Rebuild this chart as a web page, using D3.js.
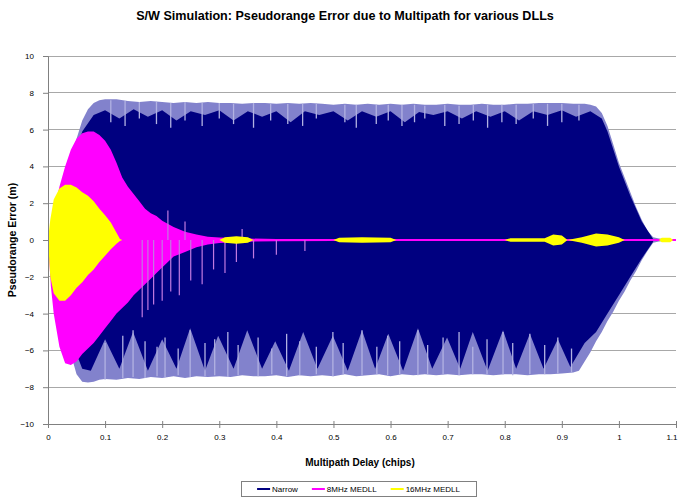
<!DOCTYPE html>
<html>
<head>
<meta charset="utf-8">
<script src="https://cdn.jsdelivr.net/npm/d3@7"></script>
<style>
  body { margin: 0; background: #fff; }
  svg { display: block; font-family: "Liberation Sans", Arial, sans-serif; }
</style>
</head>
<body>
<svg id="chart" width="678" height="502"></svg>
<script>
// ---- labels ----
const chartTitle = "S/W Simulation: Pseudorange Error due to Multipath for various DLLs";
const xTitle = "Multipath Delay (chips)";
const yTitle = "Pseudorange Error (m)";
const seriesNames = ["Narrow", "8MHz MEDLL", "16MHz MEDLL"];
const xTicks = [0, 0.1, 0.2, 0.3, 0.4, 0.5, 0.6, 0.7, 0.8, 0.9, 1.0, 1.1];
const xTickLabels = ["0", "0.1", "0.2", "0.3", "0.4", "0.5", "0.6", "0.7", "0.8", "0.9", "1", "1.1"];
const yTicks = [-10, -8, -6, -4, -2, 0, 2, 4, 6, 8, 10];

// ---- Narrow correlator: outer envelope of the error oscillation (m) ----
const narrowDelay = [0, 0.01, 0.02, 0.03, 0.04, 0.05, 0.06, 0.07, 0.08, 0.09, 0.10,
  0.12, 0.14, 0.16, 0.18, 0.20, 0.22, 0.24, 0.26, 0.28, 0.30, 0.32, 0.34, 0.36, 0.38, 0.40,
  0.42, 0.44, 0.46, 0.48, 0.50, 0.52, 0.54, 0.56, 0.58, 0.60, 0.62, 0.64, 0.66, 0.68, 0.70,
  0.72, 0.74, 0.76, 0.78, 0.80, 0.82, 0.84, 0.86, 0.88, 0.90, 0.92,
  0.93, 0.94, 0.95, 0.96, 0.97, 0.98, 0.99, 1.00, 1.01, 1.02, 1.03, 1.04, 1.05, 1.06, 1.07, 1.08, 1.10];
const narrowMax = [0, 1.1, 2.2, 3.3, 4.4, 5.5, 6.5, 7.1, 7.45, 7.6, 7.65,
  7.65, 7.55, 7.5, 7.55, 7.5, 7.45, 7.5, 7.45, 7.5, 7.45, 7.45, 7.4, 7.45, 7.45, 7.4,
  7.45, 7.4, 7.45, 7.4, 7.35, 7.4, 7.35, 7.4, 7.35, 7.4, 7.35, 7.4, 7.35, 7.35, 7.4,
  7.35, 7.35, 7.4, 7.35, 7.35, 7.4, 7.4, 7.45, 7.45, 7.45, 7.4,
  7.4, 7.4, 7.35, 7.25, 6.9, 6.2, 5.2, 4.2, 3.4, 2.6, 1.8, 1.1, 0.5, 0.15, 0.08, 0.05, 0.04];
const narrowMin = [0, -1.4, -2.9, -4.6, -6.2, -7.3, -7.7, -7.75, -7.7, -7.6, -7.55,
  -7.6, -7.5, -7.55, -7.45, -7.5, -7.4, -7.5, -7.4, -7.45, -7.4, -7.45, -7.35, -7.4, -7.4, -7.35,
  -7.45, -7.35, -7.4, -7.35, -7.4, -7.3, -7.4, -7.35, -7.3, -7.4, -7.3, -7.35, -7.3, -7.35, -7.3,
  -7.35, -7.3, -7.3, -7.35, -7.3, -7.3, -7.35, -7.3, -7.3, -7.25, -7.2,
  -7.1, -6.6, -6.1, -5.5, -5.0, -4.4, -3.9, -3.3, -2.8, -2.2, -1.7, -1.1, -0.6, -0.15, -0.08, -0.05, -0.04];

// ---- Narrow correlator: dense core of the oscillation (m) ----
const narrowCoreTopDelay = [0, 0.02, 0.04, 0.06, 0.08, 0.10, 0.125, 0.15, 0.175, 0.20, 0.225, 0.25,
  0.275, 0.30, 0.325, 0.35, 0.375, 0.40, 0.425, 0.45, 0.475, 0.50, 0.525, 0.55, 0.575, 0.60,
  0.625, 0.65, 0.675, 0.70, 0.725, 0.75, 0.775, 0.80, 0.825, 0.85, 0.875, 0.90, 0.925, 0.95,
  0.97, 0.98, 0.99, 1.00, 1.02, 1.04, 1.06];
const narrowCoreTop = [0, 1.9, 3.9, 5.9, 6.8, 7.05, 6.6, 7.1, 6.7, 7.05, 6.5, 7.0,
  6.8, 7.05, 6.5, 7.0, 6.7, 7.0, 6.4, 7.0, 6.8, 7.0, 6.5, 7.0, 6.7, 7.0,
  6.4, 6.95, 6.8, 7.0, 6.6, 7.0, 6.7, 7.0, 6.5, 7.0, 6.8, 7.05, 6.7, 7.0,
  6.6, 5.9, 4.95, 4.0, 2.4, 1.0, 0.05];
const narrowCoreLowDelay = [0, 0.02, 0.04, 0.06, 0.075, 0.10, 0.125, 0.149, 0.175, 0.20, 0.225, 0.249,
  0.275, 0.298, 0.325, 0.349, 0.375, 0.398, 0.422, 0.447, 0.472, 0.499, 0.525, 0.55, 0.573,
  0.596, 0.622, 0.648, 0.673, 0.699, 0.722, 0.744, 0.77, 0.797, 0.82, 0.844, 0.868, 0.893,
  0.915, 0.94, 0.96, 0.98, 1.00, 1.02, 1.04, 1.06];
const narrowCoreLow = [0, -2.6, -5.4, -7.0, -7.1, -5.4, -7.0, -5.0, -7.1, -5.4, -7.0, -4.8,
  -7.1, -5.2, -7.0, -4.9, -7.0, -5.5, -7.1, -5.0, -7.0, -5.2, -7.1, -4.9, -7.0,
  -5.1, -7.1, -4.8, -7.0, -5.3, -7.0, -5.0, -7.1, -4.9, -7.0, -5.1, -7.0, -5.4,
  -6.9, -5.6, -5.0, -4.0, -3.0, -2.0, -1.0, -0.1];

// ---- Narrow correlator: individual deep swings at the envelope edges (m) ----
const narrowDipDelay = [0.100, 0.131, 0.149, 0.170, 0.191, 0.205, 0.228, 0.249, 0.275, 0.292, 0.315, 0.333,
  0.368, 0.392, 0.418, 0.441, 0.470, 0.499, 0.517, 0.550, 0.576, 0.595, 0.616, 0.648, 0.665, 0.692,
  0.720, 0.744, 0.769, 0.797, 0.814, 0.844, 0.870, 0.893, 0.917];
const narrowDipFrom = [-5.6, -5.2, -4.9, -5.5, -5.8, -5.3, -5.9, -4.9, -5.6, -5.4, -5.0, -5.7,
  -5.3, -5.9, -5.1, -5.5, -5.8, -5.0, -5.6, -4.9, -5.8, -5.2, -5.5, -4.9, -5.7, -5.3,
  -5.0, -5.8, -5.4, -5.0, -5.6, -5.1, -5.7, -5.3, -5.9];
const narrowDipTo = [-7.6, -7.5, -7.45, -7.5, -7.4, -7.45, -7.35, -7.45, -7.4, -7.35, -7.45, -7.35,
  -7.4, -7.3, -7.4, -7.35, -7.3, -7.4, -7.3, -7.35, -7.3, -7.35, -7.3, -7.35, -7.3, -7.3,
  -7.35, -7.3, -7.3, -7.3, -7.35, -7.3, -7.3, -7.25, -7.2];
const narrowPeakDelay = [0.11, 0.135, 0.16, 0.19, 0.215, 0.24, 0.27, 0.30, 0.325, 0.36, 0.39, 0.42,
  0.446, 0.47, 0.52, 0.54, 0.575, 0.596, 0.62, 0.642, 0.66, 0.695, 0.72, 0.745, 0.77, 0.795,
  0.82, 0.85, 0.875, 0.90, 0.93];
const narrowPeakFrom = [7.6, 7.55, 7.5, 7.5, 7.45, 7.5, 7.45, 7.45, 7.4, 7.45, 7.4, 7.4,
  7.4, 7.4, 7.35, 7.35, 7.35, 7.35, 7.35, 7.35, 7.3, 7.35, 7.3, 7.35, 7.35, 7.35,
  7.35, 7.4, 7.4, 7.4, 7.35];
const narrowPeakTo = [6.4, 6.2, 6.6, 6.3, 6.1, 6.5, 6.2, 6.6, 6.3, 6.1, 6.5, 6.3,
  6.2, 6.6, 6.4, 6.1, 6.3, 6.5, 6.2, 6.4, 6.6, 6.2, 6.3, 6.5, 6.1, 6.4,
  6.3, 6.6, 6.2, 6.4, 6.5];

// ---- 8MHz MEDLL envelope (m) ----
const medll8Delay = [0, 0.005, 0.01, 0.02, 0.03, 0.04, 0.05, 0.06, 0.07, 0.08, 0.09, 0.10,
  0.11, 0.12, 0.13, 0.14, 0.15, 0.16, 0.17, 0.18, 0.19, 0.20, 0.22, 0.24, 0.26, 0.28, 0.30,
  0.35, 0.40, 0.50, 0.60, 0.70, 0.80, 0.90, 1.00, 1.10];
const medll8Max = [0, 0.8, 1.5, 2.9, 4.0, 4.9, 5.5, 5.8, 5.9, 5.9, 5.7, 5.4,
  4.9, 4.2, 3.4, 2.9, 2.5, 2.1, 1.7, 1.45, 1.3, 1.05, 0.7, 0.45, 0.3, 0.18, 0.13,
  0.08, 0.06, 0.06, 0.06, 0.06, 0.06, 0.06, 0.06, 0.05];
const medll8Min = [0, -2.5, -4.0, -5.8, -6.7, -6.8, -6.6, -6.2, -5.9, -5.6, -5.2, -4.8,
  -4.4, -4.0, -3.7, -3.4, -3.0, -2.7, -2.4, -2.1, -1.8, -1.5, -0.9, -0.65, -0.4, -0.25, -0.16,
  -0.09, -0.07, -0.06, -0.06, -0.06, -0.06, -0.06, -0.06, -0.05];
// isolated excursions of the 8MHz MEDLL error
const medll8SpikeDelay = [0.165, 0.175, 0.185, 0.20, 0.21, 0.215, 0.23, 0.24, 0.25, 0.27, 0.29, 0.31, 0.33, 0.34, 0.36, 0.40, 0.45];
const medll8SpikeValue = [-4.2, -3.8, -3.5, -3.3, 1.6, -2.8, -3.0, 1.0, -2.2, -2.4, -1.6, -1.8, -1.2, 0.6, -1.0, -0.8, -0.6];

// ---- 16MHz MEDLL envelope (m) ----
const medll16Delay = [0, 0.004, 0.01, 0.02, 0.03, 0.04, 0.05, 0.06, 0.07, 0.08, 0.09, 0.10, 0.11, 0.12, 0.126,
  0.13, 0.30, 0.31, 0.33, 0.35, 0.36, 0.50, 0.51, 0.55, 0.60, 0.61, 0.80, 0.81, 0.87, 0.885, 0.90, 0.91,
  0.935, 0.96, 0.98, 1.00, 1.01, 1.07, 1.075, 1.09, 1.095, 1.10];
const medll16Max = [0, 1.1, 2.2, 2.8, 3.0, 3.0, 2.85, 2.6, 2.4, 2.1, 1.7, 1.35, 0.95, 0.4, 0.06,
  0, 0, 0.15, 0.2, 0.15, 0, 0, 0.12, 0.15, 0.12, 0, 0, 0.1, 0.1, 0.3, 0.25, 0,
  0.15, 0.35, 0.3, 0.15, 0, 0, 0.12, 0.12, 0, 0];
const medll16Min = [0, -2.0, -2.9, -3.3, -3.3, -3.0, -2.6, -2.3, -1.9, -1.6, -1.2, -0.85, -0.5, -0.2, -0.06,
  0, 0, -0.15, -0.2, -0.15, 0, 0, -0.12, -0.15, -0.12, 0, 0, -0.1, -0.1, -0.3, -0.25, 0,
  -0.15, -0.35, -0.3, -0.15, 0, 0, -0.12, -0.12, 0, 0];

const colors = { narrow: "#000080", narrowFringe: "#8282cc", narrowStreak: "#b2b2e2",
  medll8: "#ff00ff", medll8Spike: "#c27ae0", medll16: "#ffff00" };

// ---- layout ----
const svg = d3.select("#chart");
const plot = { left: 48, right: 676, top: 56, bottom: 424 };
const x = d3.scaleLinear().domain([0, 1.1]).range([plot.left, plot.right]);
const y = d3.scaleLinear().domain([-10, 10]).range([plot.bottom, plot.top]);

// title
svg.append("text")
  .attr("x", 345).attr("y", 20)
  .attr("text-anchor", "middle")
  .attr("font-size", 12.6).attr("font-weight", "bold")
  .text(chartTitle);

// gridlines
svg.append("g")
  .selectAll("line")
  .data(yTicks.filter(v => v > -10))
  .join("line")
  .attr("x1", plot.left).attr("x2", plot.right)
  .attr("y1", d => y(d)).attr("y2", d => y(d))
  .attr("stroke", "#a8a8a8").attr("stroke-width", 1)
  .attr("shape-rendering", "crispEdges");

// series layers
const band = (delay, lo, hi) => d3.area()
  .x((d, i) => x(delay[i]))
  .y0((d, i) => y(lo[i]))
  .y1((d, i) => y(hi[i]))(delay);

const series = svg.append("g");

const swings = (g, delay, from, to, color, width) => g.append("g")
  .selectAll("line")
  .data(delay)
  .join("line")
  .attr("x1", d => x(d)).attr("x2", d => x(d))
  .attr("y1", (d, i) => y(from[i])).attr("y2", (d, i) => y(to[i]))
  .attr("stroke", color).attr("stroke-width", width);

// Narrow: light fringe of the oscillation, then its dense core
series.append("path")
  .attr("d", band(narrowDelay, narrowMin, narrowMax))
  .attr("fill", colors.narrowFringe);

const corePts = narrowCoreTopDelay.map((d, i) => [x(d), y(narrowCoreTop[i])])
  .concat(narrowCoreLowDelay.map((d, i) => [x(d), y(narrowCoreLow[i])]).reverse());
series.append("path")
  .attr("d", d3.line()(corePts) + "Z")
  .attr("fill", colors.narrow);

swings(series, narrowDipDelay, narrowDipFrom, narrowDipTo, colors.narrowStreak, 1.3);
swings(series, narrowPeakDelay, narrowPeakFrom, narrowPeakTo, colors.narrowStreak, 1.3);

// 8MHz MEDLL
series.append("path")
  .attr("d", band(medll8Delay, medll8Min, medll8Max))
  .attr("fill", colors.medll8);
swings(series, medll8SpikeDelay, medll8SpikeDelay.map(() => 0), medll8SpikeValue, colors.medll8Spike, 1.2);

// 16MHz MEDLL
series.append("path")
  .attr("d", band(medll16Delay, medll16Min, medll16Max))
  .attr("fill", colors.medll16);

// axes
const labelFont = "'Liberation Sans', Arial, sans-serif";
const xAxis = svg.append("g").attr("transform", `translate(0,${plot.bottom})`)
  .call(d3.axisBottom(x).tickValues(xTicks).tickSize(4).tickFormat((d, i) => xTickLabels[i]));
xAxis.select(".domain").attr("stroke", "#808080");
xAxis.selectAll(".tick line").attr("stroke", "#808080").attr("y1", -3);
xAxis.selectAll(".tick text").attr("font-size", 8).attr("fill", "#000").attr("dy", "1.1em")
  .attr("font-family", labelFont);
// the last label sits at the right edge of the chart; keep it fully inside
xAxis.selectAll(".tick text").filter(d => d === 1.1)
  .attr("text-anchor", "end").attr("x", 677 - plot.right);

const yAxis = svg.append("g").attr("transform", `translate(${plot.left},0)`)
  .call(d3.axisLeft(y).tickValues(yTicks).tickSize(5).tickFormat(d3.format("d")));
yAxis.select(".domain").attr("stroke", "#808080");
yAxis.selectAll(".tick line").attr("stroke", "#808080");
yAxis.selectAll(".tick text").attr("font-size", 8).attr("fill", "#000").attr("x", -14)
  .attr("font-family", labelFont);

// axis titles
svg.append("text")
  .attr("x", 360).attr("y", 466)
  .attr("text-anchor", "middle")
  .attr("font-size", 10).attr("font-weight", "bold")
  .text(xTitle);
svg.append("text")
  .attr("transform", `translate(16,${(plot.top + plot.bottom) / 2}) rotate(-90)`)
  .attr("text-anchor", "middle")
  .attr("font-size", 10.5).attr("font-weight", "bold")
  .text(yTitle);

// legend
const legend = svg.append("g");
const legendBox = legend.append("rect")
  .attr("y", 481.5).attr("height", 15)
  .attr("fill", "#fff").attr("stroke", "#808080");
const legendColors = [colors.narrow, colors.medll8, colors.medll16];
let cursor = 0;
const items = legend.append("g");
seriesNames.forEach((name, i) => {
  items.append("line")
    .attr("x1", cursor).attr("x2", cursor + 13)
    .attr("y1", 489).attr("y2", 489)
    .attr("stroke", legendColors[i]).attr("stroke-width", 2);
  const t = items.append("text")
    .attr("x", cursor + 15).attr("y", 492)
    .attr("font-size", 8)
    .text(name);
  cursor += 15 + t.node().getComputedTextLength() + 14;
});
const itemsWidth = cursor - 14;
const boxLeft = 241, boxWidth = 235;
items.attr("transform", `translate(${boxLeft + (boxWidth - itemsWidth) / 2},0)`);
legendBox.attr("x", boxLeft + 0.5).attr("width", boxWidth);
</script>
</body>
</html>
